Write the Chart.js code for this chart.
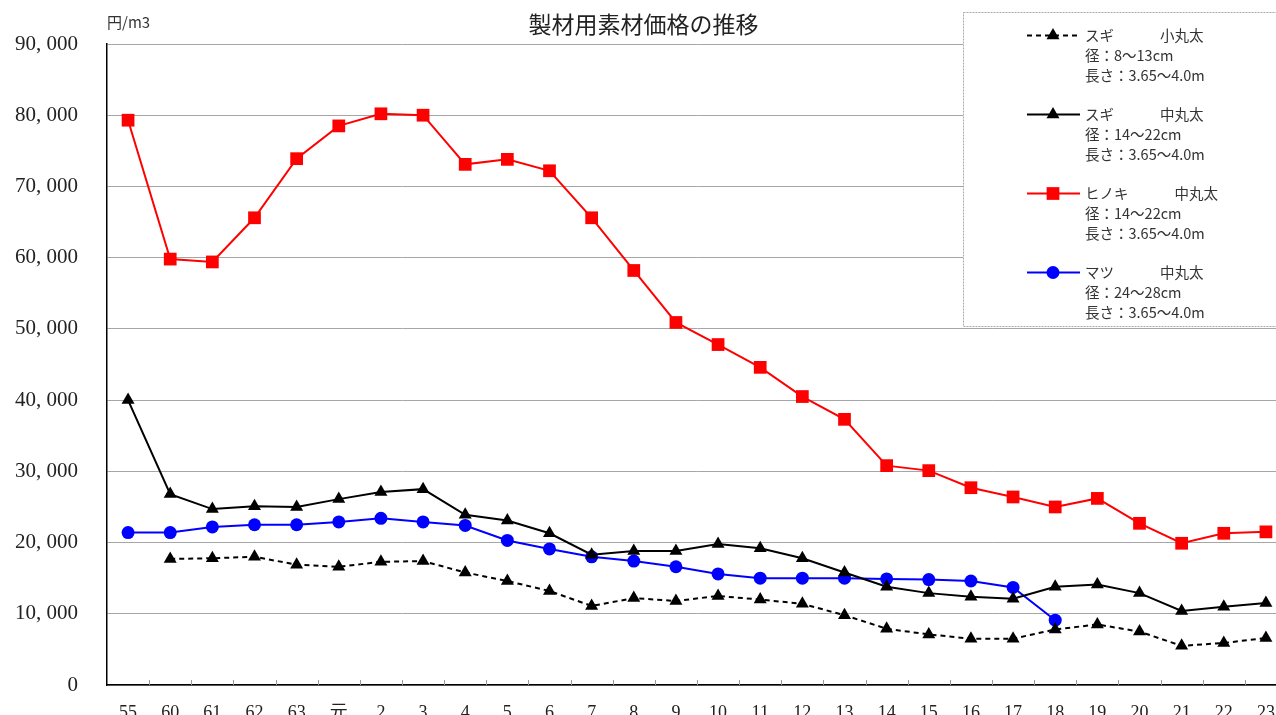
<!DOCTYPE html>
<html>
<head>
<meta charset="utf-8">
<script src="https://cdn.jsdelivr.net/npm/chart.js@4/dist/chart.umd.min.js"></script>
<style>
  html, body { margin: 0; padding: 0; background: #fff; overflow: hidden; }
  #wrap { width: 1276px; height: 715px; overflow: hidden; }
  canvas { display: block; }
</style>
</head>
<body>
<div id="wrap"><canvas id="myChart" width="1287" height="715" style="width:1287px;height:715px"></canvas></div>
<script>
/* Data */

const years = ['55', '60', '61', '62', '63', '元', '2', '3', '4', '5', '6', '7', '8', '9', '10',
    '11', '12', '13', '14', '15', '16', '17', '18', '19', '20', '21', '22', '23']

const sugiSmall = [null, 17700, 17800, 18000, 16900, 16600, 17300, 17400, 15800, 14600, 13200, 11100, 12200, 11800,
    12500, 12000, 11400, 9800, 7900, 7100, 6500, 6500, 7800, 8500, 7500, 5500, 5900, 6600]
const sugiMedium = [40000, 26800, 24700, 25100, 25000, 26100, 27100, 27500, 23900, 23100, 21300, 18300, 18800, 18800,
    19800, 19200, 17800, 15800, 13800, 12900, 12400, 12100, 13800, 14100, 12900, 10400, 11000, 11500]
const hinoki = [79300, 59800, 59400, 65600, 73900, 78500, 80200, 80000, 73100, 73800, 72200, 65600, 58200, 50900,
    47800, 44600, 40500, 37300, 30800, 30100, 27700, 26400, 25000, 26200, 22700, 19900, 21300, 21500]
const matsu = [21400, 21400, 22200, 22500, 22500, 22900, 23400, 22900, 22400, 20300, 19100, 18000, 17400, 16600,
    15600, 15000, 15000, 15000, 14900, 14800, 14600, 13700, 9100, null, null, null, null, null]

const seriesNames = ['スギ', 'スギ', 'ヒノキ', 'マツ']
const seriesGrades = ['小丸太', '中丸太', '中丸太', '中丸太']
const seriesDiameters = ['径：8～13cm', '径：14～22cm', '径：14～22cm', '径：24～28cm']
const seriesLengths = ['長さ：3.65～4.0m', '長さ：3.65～4.0m', '長さ：3.65～4.0m', '長さ：3.65～4.0m']

const yTicks = { min: 0, max: 90000, step: 10000 }
const titleText = '製材用素材価格の推移'
const unitText = '円/m3'

/* Chart */

const cjk = "'Noto Sans CJK JP', sans-serif"
const serif = "'Liberation Serif', 'Noto Sans CJK JP', serif"

const styles = [
    { color: '#000000', dash: [5, 4], point: 'triangle', radius: 7.5 },
    { color: '#000000', dash: [], point: 'triangle', radius: 7.5 },
    { color: '#ff0000', dash: [], point: 'rect', radius: 9 },
    { color: '#0000ff', dash: [], point: 'circle', radius: 6.5 },
]

function drawMarker(ctx, style, x, y) {
    ctx.save()
    ctx.fillStyle = style.color
    ctx.beginPath()
    if (style.point === 'triangle') {
        const r = style.radius
        ctx.moveTo(x, y - r)
        ctx.lineTo(x + r * 0.866, y + r / 2)
        ctx.lineTo(x - r * 0.866, y + r / 2)
        ctx.closePath()
    } else if (style.point === 'rect') {
        const s = style.radius * Math.SQRT1_2
        ctx.rect(x - s, y - s, 2 * s, 2 * s)
    } else {
        ctx.arc(x, y, style.radius, 0, Math.PI * 2)
    }
    ctx.fill()
    ctx.restore()
}

const extras = {
    id: 'extras',
    afterDraw(chart) {
        const ctx = chart.ctx
        const area = chart.chartArea
        const xs = chart.scales.x

        // inner tick marks between categories
        ctx.save()
        ctx.strokeStyle = '#9a9a9a'
        ctx.lineWidth = 1
        for (let i = 1; i < years.length; i++) {
            const x = Math.round((xs.getPixelForValue(i - 1) + xs.getPixelForValue(i)) / 2) + 0.5
            ctx.beginPath()
            ctx.moveTo(x, area.bottom - 5)
            ctx.lineTo(x, area.bottom)
            ctx.stroke()
        }
        ctx.restore()

        // unit label
        ctx.save()
        ctx.fillStyle = '#333'
        ctx.font = '15px ' + cjk
        ctx.textBaseline = 'middle'
        ctx.textAlign = 'left'
        ctx.fillText(unitText, area.left, 22)
        ctx.restore()

        // legend box
        ctx.save()
        ctx.fillStyle = '#fff'
        ctx.fillRect(963, 12, 330, 314)
        ctx.strokeStyle = '#a8a8a8'
        ctx.setLineDash([2, 1])
        ctx.lineWidth = 1
        ctx.strokeRect(963.5, 12.5, 330, 314)
        ctx.setLineDash([])

        chart.data.datasets.forEach((ds, i) => {
            const st = styles[i]
            const y0 = 35.5 + i * 79
            ctx.strokeStyle = st.color
            ctx.lineWidth = 2
            ctx.setLineDash(st.dash)
            ctx.beginPath()
            ctx.moveTo(1027, y0)
            ctx.lineTo(1080, y0)
            ctx.stroke()
            ctx.setLineDash([])
            drawMarker(ctx, st, 1053, y0)

            ctx.fillStyle = '#333'
            ctx.font = '14.5px ' + cjk
            ctx.textBaseline = 'middle'
            ctx.textAlign = 'left'
            ctx.fillText(seriesNames[i], 1085, y0)
            const w = ctx.measureText(seriesNames[i]).width
            ctx.fillText(seriesGrades[i], 1085 + w + 46, y0)
            ctx.fillText(seriesDiameters[i], 1085, y0 + 20)
            ctx.fillText(seriesLengths[i], 1085, y0 + 39.5)
        })
        ctx.restore()
    }
}

const seriesData = [sugiSmall, sugiMedium, hinoki, matsu]

const ctx = document.getElementById('myChart')
new Chart(ctx, {
    type: 'line',
    data: {
        labels: years,
        datasets: seriesData.map((data, i) => ({
            label: seriesNames[i] + ' ' + seriesGrades[i],
            data,
            borderColor: styles[i].color,
            backgroundColor: styles[i].color,
            borderWidth: 2,
            borderDash: styles[i].dash,
            pointStyle: styles[i].point,
            pointRadius: styles[i].radius,
            pointBorderWidth: 0,
            pointBackgroundColor: styles[i].color,
            tension: 0,
        }))
    },
    options: {
        responsive: false,
        animation: false,
        devicePixelRatio: 1,
        layout: { padding: 0, autoPadding: false },
        scales: {
            x: {
                offset: true,
                grid: { display: false },
                border: { color: '#000', width: 1.5 },
                ticks: {
                    color: '#222',
                    font: { family: serif, size: 18 },
                    padding: 9,
                    maxRotation: 0,
                    autoSkip: false
                },
                afterFit: (scale) => { scale.height = 30 }
            },
            y: {
                min: yTicks.min,
                max: yTicks.max,
                // transparent tick marks keep the labels clear of the axis
                grid: { color: '#a6a6a6', lineWidth: 1, drawTicks: true, tickLength: 29, tickColor: 'rgba(0,0,0,0)' },
                border: { color: '#000', width: 1.5 },
                ticks: {
                    stepSize: yTicks.step,
                    color: '#222',
                    padding: 0,
                    font: { family: serif, size: 21 },
                    callback: (v) => v.toLocaleString('en-US').replace(',', ', ')
                },
                afterFit: (scale) => { scale.width = 107 }
            }
        },
        plugins: {
            legend: { display: false },
            tooltip: { enabled: false },
            title: {
                display: true,
                text: titleText,
                color: '#222',
                font: { family: cjk, size: 23, weight: 'normal', lineHeight: 1.2 },
                padding: { top: 10, bottom: 6.4 }
            }
        }
    },
    plugins: [extras]
});
</script>
</body>
</html>
